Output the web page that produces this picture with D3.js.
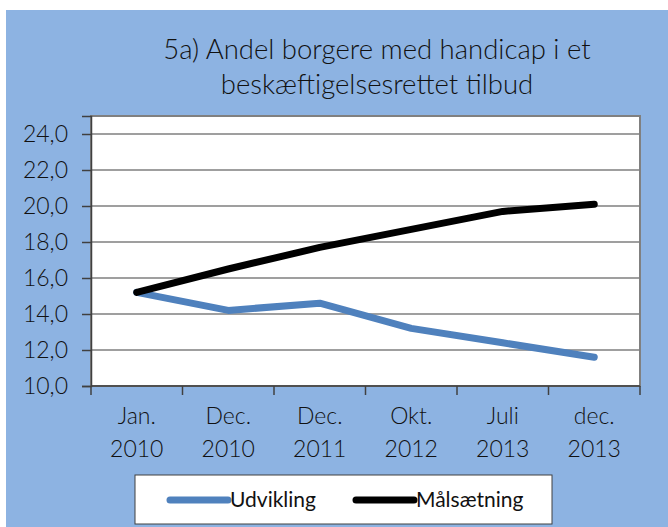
<!DOCTYPE html>
<html><head><meta charset="utf-8">
<script src="https://cdn.jsdelivr.net/npm/d3@7/dist/d3.min.js"></script>
<style>
html,body{margin:0;padding:0;background:#fff;}
svg{display:block;}
text{font-family:Lato,"Open Sans",sans-serif;fill:#111;}
</style></head>
<body>
<svg id="c" width="668" height="527"></svg>
<script>
const titleLines = ["5a) Andel borgere med handicap i et", "beskæftigelsesrettet tilbud"];
const categories = ["Jan. 2010", "Dec. 2010", "Dec. 2011", "Okt. 2012", "Juli 2013", "dec. 2013"];
const categoryLines = [["Jan.","2010"],["Dec.","2010"],["Dec.","2011"],["Okt.","2012"],["Juli","2013"],["dec.","2013"]];
const udvikling = [15.2, 14.2, 14.6, 13.2, 12.4, 11.6];
const maalsaetning = [15.2, 16.5, 17.7, 18.7, 19.7, 20.1];
const yTicks = [10, 12, 14, 16, 18, 20, 22, 24];
const seriesNames = ["Udvikling", "Målsætning"];
const seriesColors = ["#4F81BD", "#000000"];

const svg = d3.select("#c");
const W = 668, H = 527;
const plot = {x0: 91, x1: 640, y0: 116, y1: 386};

// background panel
svg.append("rect").attr("x",6).attr("y",10).attr("width",W-6).attr("height",H-10).attr("fill","#8DB3E2");

// title
const title = svg.append("text").attr("text-anchor","middle").attr("font-size",27.5).attr("font-weight",300);
titleLines.forEach((t,i)=> title.append("tspan").attr("x",377).attr("y",59 + i*35).text(t));

const x = d3.scaleBand().domain(categories).range([plot.x0, plot.x1]);
const y = d3.scaleLinear().domain([10, 25]).range([plot.y1, plot.y0]);

// plot area
svg.append("rect").attr("x",plot.x0).attr("y",plot.y0).attr("width",plot.x1-plot.x0).attr("height",plot.y1-plot.y0)
  .attr("fill","#fff").attr("stroke","#808080").attr("stroke-width",2);

// gridlines
svg.append("g").selectAll("line").data(yTicks.filter(d=>d>10)).join("line")
  .attr("x1",plot.x0).attr("x2",plot.x1).attr("y1",d=>y(d)).attr("y2",d=>y(d))
  .attr("stroke","#7f7f7f").attr("stroke-width",1.5);

// y axis
const yAxis = d3.axisLeft(y).tickValues(yTicks).tickSize(9).tickPadding(14)
  .tickFormat(d=>d3.format(".1f")(d).replace(".",","));
const gy = svg.append("g").attr("transform",`translate(${plot.x0},0)`).call(yAxis);
gy.select(".domain").attr("stroke","#404040").attr("stroke-width",1.5);
gy.selectAll(".tick line").attr("stroke","#404040").attr("stroke-width",1.5);
gy.selectAll(".tick text").attr("font-size",23).attr("font-family","Lato,sans-serif").attr("fill","#111").attr("font-weight",300);

// x axis baseline and ticks at band edges
const edges = categories.map(c=>x(c)).concat([plot.x1]);
svg.append("line").attr("x1",plot.x0).attr("x2",plot.x1).attr("y1",plot.y1).attr("y2",plot.y1)
  .attr("stroke","#404040").attr("stroke-width",1.5);
svg.append("g").selectAll("line").data(edges).join("line")
  .attr("x1",d=>d).attr("x2",d=>d).attr("y1",plot.y1).attr("y2",plot.y1+9)
  .attr("stroke","#404040").attr("stroke-width",1.5);

// x labels
const xl = svg.append("g").selectAll("text").data(categories).join("text")
  .attr("text-anchor","middle").attr("font-size",23).attr("font-weight",300)
  .attr("x",d=>x(d)+x.bandwidth()/2);
xl.each(function(d,i){
  const t = d3.select(this);
  categoryLines[i].forEach((s,j)=> t.append("tspan").attr("x",x(d)+x.bandwidth()/2).attr("y",424 + j*33).text(s));
});

// lines
const line = d3.line().x((d,i)=>x(categories[i])+x.bandwidth()/2).y(d=>y(d));
[udvikling, maalsaetning].forEach((s,k)=>{
  svg.append("path").datum(s).attr("d",line).attr("fill","none")
    .attr("stroke",seriesColors[k]).attr("stroke-width",7)
    .attr("stroke-linejoin","round").attr("stroke-linecap","round");
});

// legend
svg.append("rect").attr("x",135).attr("y",475).attr("width",417).attr("height",49)
  .attr("fill","#fff").attr("stroke","#404040").attr("stroke-width",1);
const legX = [170, 356];
seriesNames.forEach((n,k)=>{
  svg.append("line").attr("x1",legX[k]).attr("x2",legX[k]+58).attr("y1",500).attr("y2",500)
    .attr("stroke",seriesColors[k]).attr("stroke-width",7).attr("stroke-linecap","round");
  svg.append("text").attr("x",legX[k]+60).attr("y",507).attr("font-size",21).text(n);
});
</script>
</body></html>
